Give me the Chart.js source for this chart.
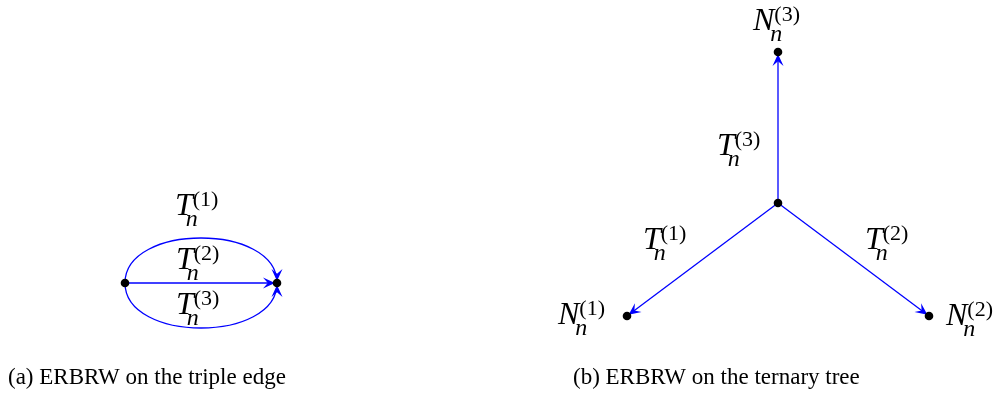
<!DOCTYPE html>
<html>
<head>
<meta charset="utf-8">
<script src="https://cdn.jsdelivr.net/npm/chart.js@4.4.1/dist/chart.umd.min.js"></script>
<style>
  html, body { margin: 0; background: #fff; }
  canvas { display: block; }
</style>
</head>
<body>
<canvas id="diagram" width="998" height="394"></canvas>
<script>
// node positions, picture pixels (y grows downward)
const edgeNodes = [[125, 283], [277, 283]];                      // (a) the triple edge
const treeNodes = [[778, 203], [627, 316], [929, 316], [778, 52]]; // (b) root, leaf 1, leaf 2, leaf 3

// edges: from, to, bulge (0 = straight, <0 = bows upward)
const edgeArcs = [[0, 1, -45], [0, 1, 0], [0, 1, 45]];
const treeEdges = [[0, 1], [0, 2], [0, 3]];

// math labels: symbol, superscript index
const labelSym = ['T', 'T', 'T', 'N', 'N', 'N', 'T', 'T', 'T'];
const labelSup = ['(1)', '(2)', '(3)', '(1)', '(2)', '(3)', '(1)', '(2)', '(3)'];
const labelAt = [[175, 215], [176, 269], [176, 314], [558, 324], [946, 325], [753, 30], [643, 249], [865, 249], [717, 155]];

const captions = ['(a) ERBRW on the triple edge', '(b) ERBRW on the ternary tree'];
const captionAt = [[8, 384], [573, 384]];

const BLUE = '#0000ff';
const SERIF = '"Liberation Serif", "DejaVu Serif", serif';

const pt = ([x, y]) => ({ x, y });

const datasets = [{
  label: 'nodes',
  data: edgeNodes.concat(treeNodes).map(pt),
  pointRadius: 4.3,
  pointBackgroundColor: '#000',
  pointBorderWidth: 0,
  showLine: false,
  order: 0
}];

// straight edges go through the library as two-point lines
edgeArcs.filter(e => e[2] === 0).forEach(e => {
  datasets.push({ data: [pt(edgeNodes[e[0]]), pt(edgeNodes[e[1]])], showLine: true,
    borderColor: BLUE, borderWidth: 1.3, pointRadius: 0, order: 1 });
});
treeEdges.forEach(e => {
  datasets.push({ data: [pt(treeNodes[e[0]]), pt(treeNodes[e[1]])], showLine: true,
    borderColor: BLUE, borderWidth: 1.3, pointRadius: 0, order: 1 });
});

function arrow(ctx, tx, ty, dx, dy) {
  const len = Math.hypot(dx, dy); dx /= len; dy /= len;
  const nx = -dy, ny = dx;
  tx -= dx * 2; ty -= dy * 2;
  const L = 12, W = 5.5;
  const bx = tx - dx * L, by = ty - dy * L;
  ctx.beginPath();
  ctx.moveTo(tx, ty);
  ctx.lineTo(bx + nx * W, by + ny * W);
  ctx.lineTo(tx - dx * L * 0.6, ty - dy * L * 0.6);
  ctx.lineTo(bx - nx * W, by - ny * W);
  ctx.closePath();
  ctx.fill();
}

function mathLabel(ctx, x, y, sym, sup) {
  ctx.font = 'italic 32px ' + SERIF;
  ctx.fillText(sym, x, y);
  const w = ctx.measureText(sym).width;
  ctx.font = '22px ' + SERIF;
  ctx.fillText(sup, x + w, y - 9);
  ctx.font = 'italic 24px ' + SERIF;
  ctx.fillText('n', x + w - (sym === 'T' ? 7 : 4), y + 11);
}

const graphPlugin = {
  id: 'graph',
  beforeDatasetsDraw(chart) {
    const { ctx, scales: { x, y } } = chart;
    const px = p => [x.getPixelForValue(p[0]), y.getPixelForValue(p[1])];
    ctx.save();
    ctx.strokeStyle = BLUE; ctx.fillStyle = BLUE; ctx.lineWidth = 1.3;
    edgeArcs.forEach(([a, b, bulge]) => {
      const [ax, ay] = px(edgeNodes[a]);
      const [bx, by] = px(edgeNodes[b]);
      if (bulge === 0) { arrow(ctx, bx, by, bx - ax, by - ay); return; }
      const k = bulge * 4 / 3;
      const c1y = y.getPixelForValue(edgeNodes[a][1] + k);
      const c2y = y.getPixelForValue(edgeNodes[b][1] + k);
      ctx.beginPath();
      ctx.moveTo(ax, ay);
      ctx.bezierCurveTo(ax, c1y, bx, c2y, bx, by);
      ctx.stroke();
      arrow(ctx, bx, by, 0, by - c2y);
    });
    treeEdges.forEach(([a, b]) => {
      const [ax, ay] = px(treeNodes[a]);
      const [bx, by] = px(treeNodes[b]);
      arrow(ctx, bx, by, bx - ax, by - ay);
    });
    ctx.restore();
  },
  afterDraw(chart) {
    const { ctx, scales: { x, y } } = chart;
    ctx.save();
    ctx.fillStyle = '#000';
    ctx.textBaseline = 'alphabetic';
    labelSym.forEach((s, i) => {
      mathLabel(ctx, x.getPixelForValue(labelAt[i][0]), y.getPixelForValue(labelAt[i][1]), s, labelSup[i]);
    });
    // caption size fitted to the width of the first caption
    ctx.font = '100px ' + SERIF;
    const size = 100 * 278 / ctx.measureText(captions[0]).width;
    ctx.font = size.toFixed(1) + 'px ' + SERIF;
    captions.forEach((c, i) => {
      ctx.fillText(c, x.getPixelForValue(captionAt[i][0]), y.getPixelForValue(captionAt[i][1]));
    });
    ctx.restore();
  }
};

new Chart(document.getElementById('diagram'), {
  type: 'scatter',
  data: { datasets },
  options: {
    responsive: false,
    animation: false,
    devicePixelRatio: 1,
    layout: { padding: 0, autoPadding: false },
    plugins: { legend: { display: false }, tooltip: { enabled: false } },
    scales: {
      x: { type: 'linear', min: 0, max: 998, display: false },
      y: { type: 'linear', min: 0, max: 394, reverse: true, display: false }
    }
  },
  plugins: [graphPlugin]
});
</script>
</body>
</html>
